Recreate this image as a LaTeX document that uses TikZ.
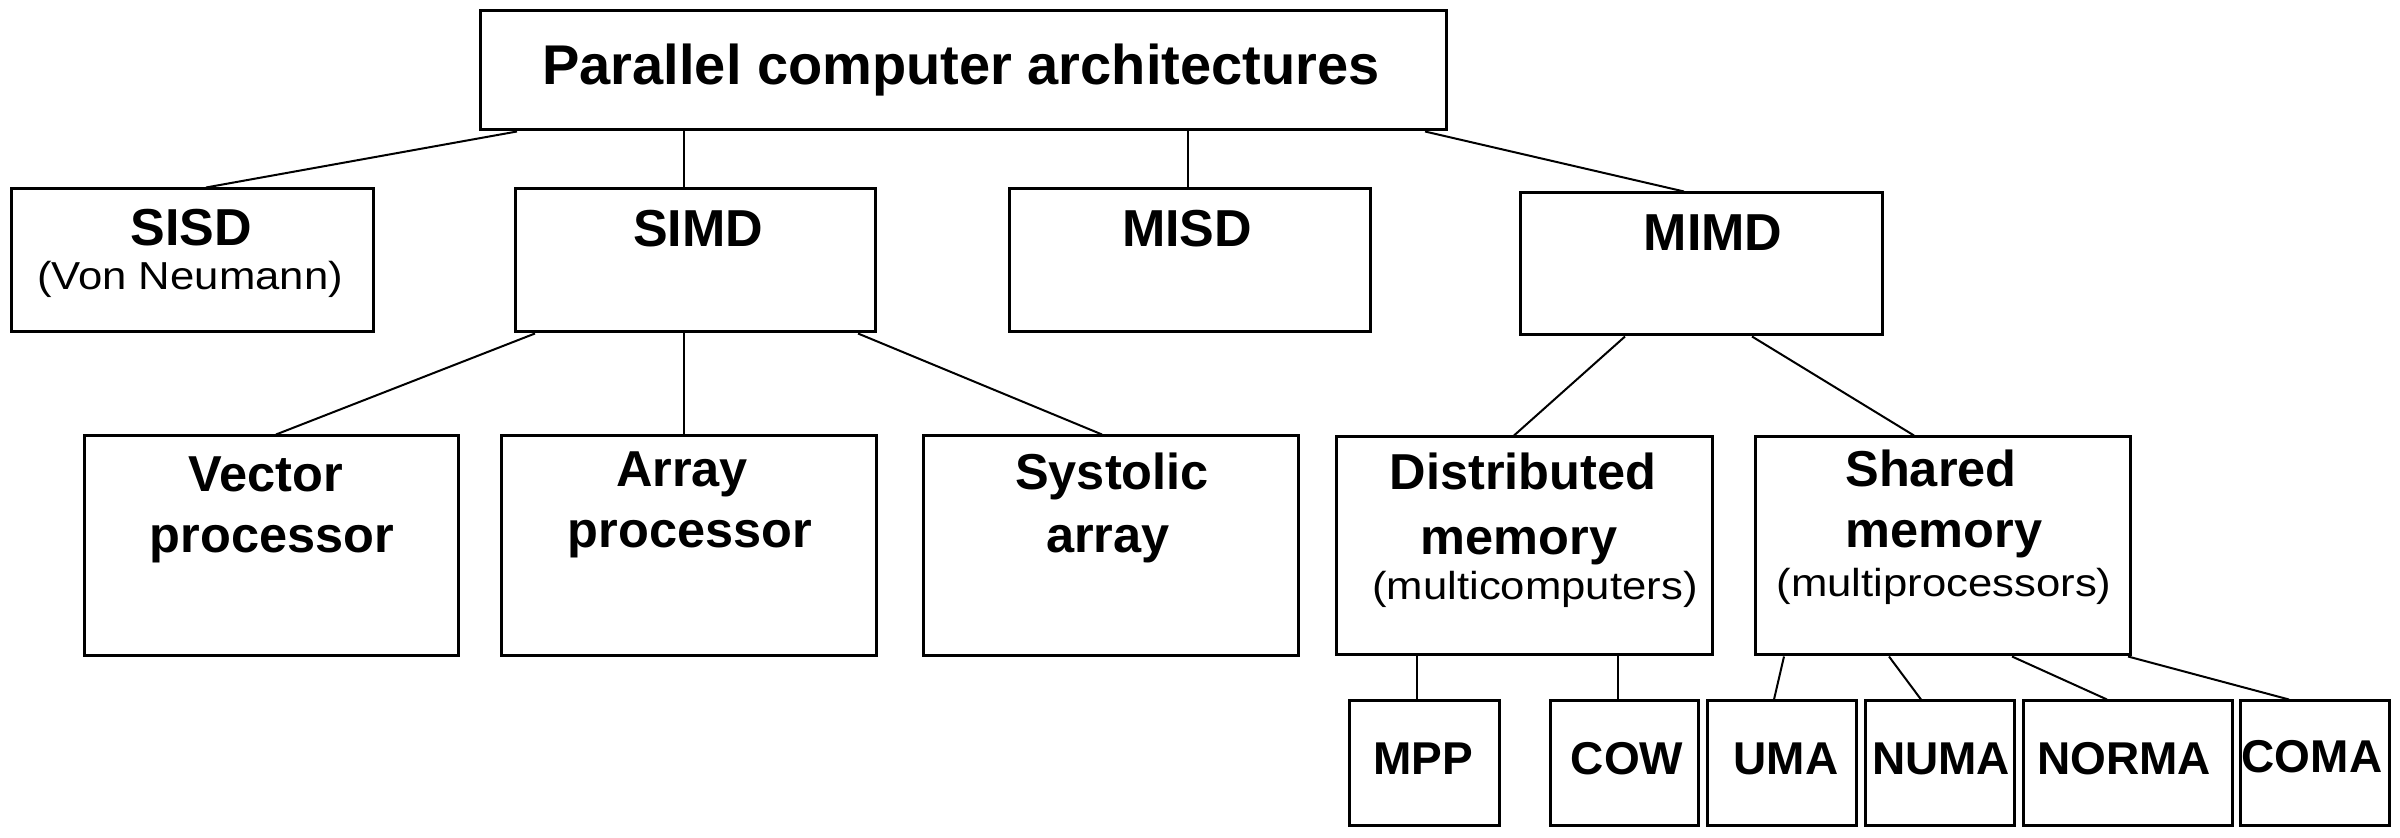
\documentclass[tikz,border=0pt]{standalone}
\usepackage{fontspec}
\setmainfont{Liberation Sans}
\newfontfamily\widereg[FakeStretch=1.12]{Liberation Sans}
\usetikzlibrary{fit,calc}
\begin{document}
\begin{tikzpicture}[x=0.3pt,y=-0.3pt,
  box/.style={draw, line width=0.9pt, inner sep=0pt, fit={#1}},
  link/.style={line width=0.6pt},
  txt/.style={anchor=base, inner sep=0pt},
  ftitle/.style={txt, font=\fontsize{16.8}{18}\selectfont\bfseries},
  fcls/.style={txt, font=\fontsize{15.6}{17}\selectfont\bfseries},
  fsub/.style={txt, font=\fontsize{15.15}{17}\selectfont\bfseries},
  fnote/.style={txt, font=\fontsize{11.7}{13}\selectfont\widereg},
  fleaf/.style={txt, font=\fontsize{13.8}{15}\selectfont\bfseries},
]
\fill[white] (0,0) rectangle (2400,838);
\useasboundingbox (0,0) rectangle (2400,838);

% boxes
\node[box={(480,11)(1446,130)}] (top) {};
\node[box={(11,189)(373,332)}] (sisd) {};
\node[box={(515,189)(875,332)}] (simd) {};
\node[box={(1009,189)(1370,332)}] (misd) {};
\node[box={(1520,193)(1882,335)}] (mimd) {};
\node[box={(84,436)(458,656)}] (vec) {};
\node[box={(501,436)(876,656)}] (arr) {};
\node[box={(923,436)(1298,656)}] (sys) {};
\node[box={(1336,437)(1712,655)}] (dist) {};
\node[box={(1755,437)(2130,655)}] (shar) {};
\node[box={(1349,701)(1499,826)}] (mpp) {};
\node[box={(1550,701)(1698,826)}] (cow) {};
\node[box={(1707,701)(1856,826)}] (uma) {};
\node[box={(1865,701)(2014,826)}] (numa) {};
\node[box={(2023,701)(2232,826)}] (norma) {};
\node[box={(2240,701)(2389,826)}] (coma) {};

% texts
\node[ftitle] (t-top) at (961,85) {Parallel computer architectures};
\node[fcls] (t-sisd) at (191,246) {SISD};
\node[fnote] (t-vn) at (190,290) {(Von Neumann)};
\node[fcls] (t-simd) at (698,247) {SIMD};
\node[fcls] (t-misd) at (1187,247) {MISD};
\node[fcls] (t-mimd) at (1713,251) {MIMD};
\node[fsub] (t-vec1) at (266,492) {Vector};
\node[fsub] (t-vec2) at (272,553) {processor};
\node[fsub] (t-arr1) at (682,487) {Array};
\node[fsub] (t-arr2) at (690,548) {processor};
\node[fsub] (t-sys1) at (1112,490) {Systolic};
\node[fsub] (t-sys2) at (1108,553) {array};
\node[fsub] (t-dist1) at (1523,490) {Distributed};
\node[fsub] (t-dist2) at (1519,555) {memory};
\node[fnote] (t-dist3) at (1535,600) {(multicomputers)};
\node[fsub] (t-shar1) at (1931,487) {Shared};
\node[fsub] (t-shar2) at (1944,548) {memory};
\node[fnote] (t-shar3) at (1944,597) {(multiprocessors)};
\node[fleaf] (t-mpp) at (1423,775) {MPP};
\node[fleaf] (t-cow) at (1627,775) {COW};
\node[fleaf] (t-uma) at (1786,775) {UMA};
\node[fleaf] (t-numa) at (1941,775) {NUMA};
\node[fleaf] (t-norma) at (2124,775) {NORMA};
\node[fleaf] (t-coma) at (2312,773) {COMA};

% connectors
\draw[link] ($(top.south)+(-446,0)$) -- ($(sisd.north)+(14,0)$);
\draw[link] ($(top.south)+(-279,0)$) -- ($(simd.north)+(-11,0)$);
\draw[link] ($(top.south)+(225,0)$) -- ($(misd.north)+(-1.5,0)$);
\draw[link] ($(top.south)+(462,0)$) -- ($(mimd.north)+(-17,0)$);
\draw[link] ($(simd.south)+(-160,0)$) -- ($(vec.north)+(5,0)$);
\draw[link] ($(simd.south)+(-11,0)$) -- ($(arr.north)+(-4.5,0)$);
\draw[link] ($(simd.south)+(163,0)$) -- ($(sys.north)+(-8.5,0)$);
\draw[link] ($(mimd.south)+(-76,0)$) -- ($(dist.north)+(-10,0)$);
\draw[link] ($(mimd.south)+(51,0)$) -- ($(shar.north)+(-28.5,0)$);
\draw[link] ($(dist.south)+(-107,0)$) -- ($(mpp.north)+(-7,0)$);
\draw[link] ($(dist.south)+(94,0)$) -- ($(cow.north)+(-6,0)$);
\draw[link] ($(shar.south)+(-158.5,0)$) -- ($(uma.north)+(-7.5,0)$);
\draw[link] ($(shar.south)+(-53.5,0)$) -- ($(numa.north)+(-18.5,0)$);
\draw[link] ($(shar.south)+(69.5,0)$) -- ($(norma.north)+(-20.5,0)$);
\draw[link] ($(shar.south)+(185.5,0)$) -- ($(coma.north)+(-25.5,0)$);
\end{tikzpicture}
\end{document}
